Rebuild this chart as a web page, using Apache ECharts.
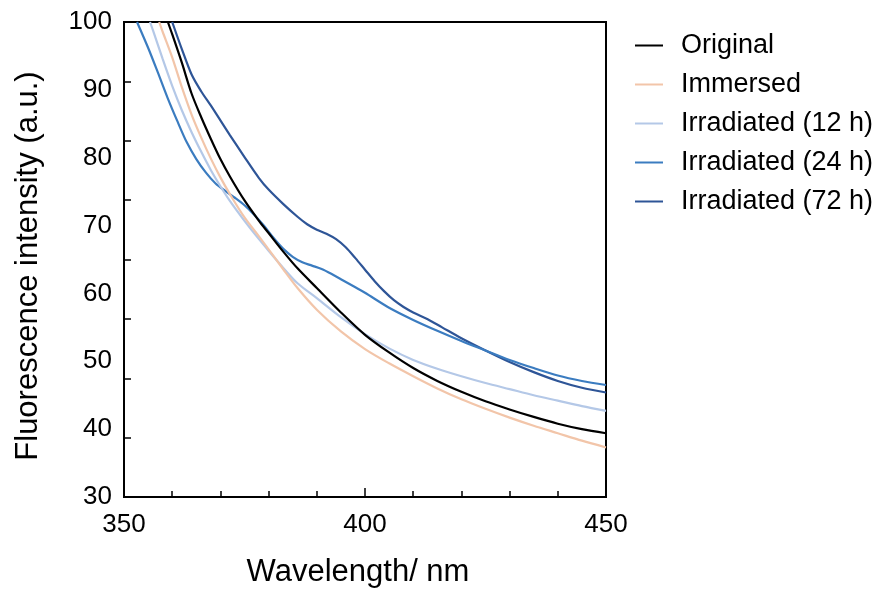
<!doctype html>
<html>
<head>
    <meta charset="UTF-8">
    <title>Fluorescence intensity</title>
    <script src="https://cdn.jsdelivr.net/npm/echarts@6/dist/echarts.min.js"></script>
    <style>
        html, body { margin: 0; padding: 0; background: #fff; }
        #chart { width: 876px; height: 594px; }
    </style>
</head>
<body>
<div id="chart"></div>
<script type="text/javascript">
    // 各曲线数据 (波长 nm / 荧光强度 a.u.)
    var seriesNames = ['Original', 'Immersed', 'Irradiated (12 h)', 'Irradiated (24 h)', 'Irradiated (72 h)'];
    var seriesColors = ['#000000', '#f2c5a9', '#b4c8e7', '#3b7cc0', '#2e5597'];

    var wlOriginal = [359.1, 360, 362, 364, 366, 368, 370, 372, 375, 378, 380, 383, 386, 390, 395, 400, 405, 410, 415, 420, 425, 430, 435, 440, 445, 450];
    var valOriginal = [100.0, 98.2, 94.0, 89.5, 86.0, 82.8, 79.8, 77.2, 73.7, 70.7, 68.9, 66.2, 63.7, 60.8, 57.2, 53.9, 51.3, 49.0, 47.1, 45.5, 44.1, 42.9, 41.8, 40.8, 40.0, 39.4];

    var wlImmersed = [357.3, 358, 360, 362, 364, 366, 368, 370, 372, 375, 378, 380, 383, 386, 390, 395, 400, 405, 410, 415, 420, 425, 430, 435, 440, 445, 450];
    var valImmersed = [100.0, 98.6, 94.8, 90.4, 86.4, 83.0, 79.9, 77.1, 74.6, 71.2, 68.4, 66.5, 63.6, 60.8, 57.6, 54.4, 51.8, 49.7, 47.8, 46.0, 44.4, 43.0, 41.7, 40.5, 39.4, 38.3, 37.3];

    var wl12h = [355.4, 356, 358, 360, 362, 364, 366, 368, 370, 372, 375, 378, 380, 383, 386, 390, 395, 400, 405, 410, 415, 420, 425, 430, 435, 440, 445, 450];
    var val12h = [100.0, 98.8, 94.6, 90.6, 87.0, 83.8, 80.9, 78.2, 75.8, 73.6, 70.7, 68.0, 66.3, 63.8, 61.5, 59.3, 56.5, 54.0, 51.9, 50.2, 48.9, 47.8, 46.8, 45.9, 45.0, 44.2, 43.4, 42.7];

    var wl24h = [352.7, 355, 357, 359, 361, 363, 365, 367, 369, 371, 373, 375, 377, 379, 381, 383, 385, 387, 389, 391, 393, 395, 398, 400, 405, 410, 415, 420, 425, 430, 435, 440, 445, 450];
    var val24h = [100.0, 96.2, 92.6, 88.9, 85.5, 82.3, 79.8, 77.8, 76.2, 75.1, 74.1, 73.0, 71.6, 70.0, 68.2, 66.6, 65.4, 64.6, 64.1, 63.6, 62.9, 62.1, 60.9, 60.1, 57.9, 56.1, 54.5, 53.0, 51.6, 50.2, 49.0, 47.9, 47.1, 46.5];

    var wl72h = [360.0, 362, 364, 366, 368, 370, 372, 375, 378, 380, 383, 386, 388, 390, 392, 394, 396, 398, 400, 402, 404, 406, 408, 410, 413, 416, 420, 425, 430, 435, 440, 445, 450];
    var val72h = [100.0, 96.0, 92.3, 89.8, 87.7, 85.5, 83.3, 80.1, 77.0, 75.3, 73.2, 71.3, 70.2, 69.4, 68.8, 68.0, 66.8, 65.2, 63.5, 61.8, 60.3, 59.0, 58.0, 57.2, 56.2, 55.0, 53.4, 51.6, 49.9, 48.4, 47.1, 46.1, 45.4];

    var xLabelValues = [350, 400, 450];

    function pairs(wl, val) {
        var out = [];
        for (var i = 0; i < wl.length; i++) {
            out.push([wl[i], val[i]]);
        }
        return out;
    }

    var allData = [
        pairs(wlOriginal, valOriginal),
        pairs(wlImmersed, valImmersed),
        pairs(wl12h, val12h),
        pairs(wl24h, val24h),
        pairs(wl72h, val72h)
    ];

    var font = 'Liberation Sans, Arial, sans-serif';
    var myChart = echarts.init(document.getElementById('chart'));

    var series = [];
    seriesNames.forEach(function (name, i) {
        series.push({
            name: name,
            type: 'line',
            data: allData[i],
            showSymbol: false,
            smooth: 0.3,
            clip: true,
            lineStyle: { color: seriesColors[i], width: 2.2 },
            itemStyle: { color: seriesColors[i] },
            z: 10 - i
        });
    });

    var option = {
        animation: false,
        backgroundColor: '#fff',
        grid: {
            left: 124,
            right: 270,
            top: 22,
            bottom: 97,
            show: true,
            borderColor: '#000',
            borderWidth: 2
        },
        legend: {
            orient: 'vertical',
            left: 630,
            top: 27,
            icon: 'rect',
            itemWidth: 28,
            itemHeight: 2,
            itemGap: 12,
            data: seriesNames,
            textStyle: {
                fontFamily: font,
                fontSize: 27,
                lineHeight: 27,
                color: '#000',
                padding: [0, 0, 0, 13]
            }
        },
        xAxis: [{
            type: 'value',
            min: 350,
            max: 450,
            interval: 10,
            name: 'Wavelength/ nm',
            nameLocation: 'middle',
            nameGap: 60,
            nameTextStyle: { fontFamily: font, fontSize: 31, color: '#000', padding: [0, 14, 0, 0] },
            splitLine: { show: false },
            axisLine: { lineStyle: { color: '#000', width: 2 } },
            axisTick: { inside: true, length: 6, lineStyle: { color: '#000', width: 1.5 } },
            axisLabel: {
                fontFamily: font,
                fontSize: 26,
                color: '#000',
                margin: 15,
                formatter: function (v) {
                    return xLabelValues.indexOf(v) >= 0 ? String(v) : '';
                }
            }
        }, {
            type: 'value',
            min: 350,
            max: 450,
            interval: 50,
            position: 'bottom',
            splitLine: { show: false },
            axisLine: { show: false },
            axisTick: { inside: true, length: 9, lineStyle: { color: '#000', width: 1.5 } },
            axisLabel: { show: false }
        }],
        yAxis: [{
            type: 'value',
            min: 30,
            max: 100,
            interval: 10,
            name: 'Fluorescence intensity (a.u.)',
            nameLocation: 'middle',
            nameGap: 80,
            nameTextStyle: { fontFamily: font, fontSize: 31, color: '#000', padding: [0, 13, 0, 0] },
            splitLine: { show: false },
            axisLine: { lineStyle: { color: '#000', width: 2 } },
            axisTick: { show: false },
            axisLabel: { fontFamily: font, fontSize: 26, color: '#000', margin: 12 }
        }, {
            // 刻度线 (与标签不对齐)
            type: 'value',
            min: 0,
            max: 8,
            interval: 1,
            position: 'left',
            splitLine: { show: false },
            axisLine: { show: false },
            axisTick: { inside: true, length: 7, lineStyle: { color: '#000', width: 1.5 } },
            axisLabel: { show: false }
        }],
        series: series
    };

    myChart.setOption(option, true);
</script>
</body>
</html>
